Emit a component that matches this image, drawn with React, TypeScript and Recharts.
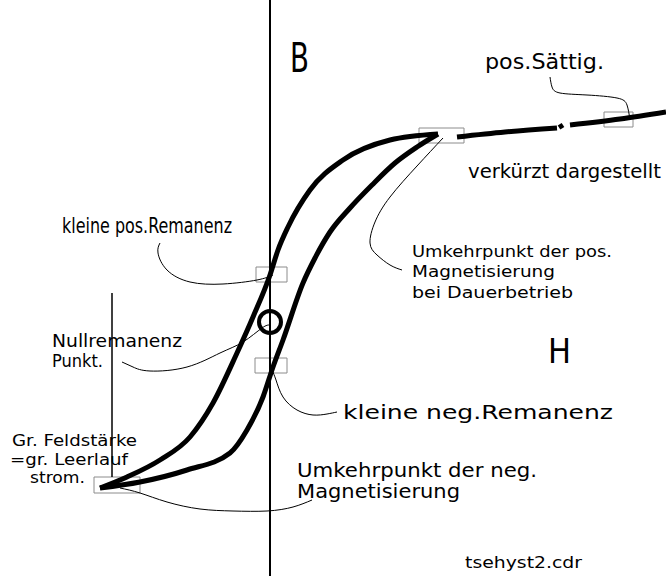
import React from 'react';
import {
    ComposedChart,
    Line,
    XAxis,
    YAxis,
    ReferenceLine,
    ReferenceArea,
    ReferenceDot,
} from 'recharts';

// H (field) on x, B (flux) on y; origin at the "Nullremanenz" point
const upperBranch = [
    { h: -17, b: -16.6 }, { h: -14.3, b: -15.5 }, { h: -11, b: -13.8 }, { h: -8, b: -11.5 },
    { h: -5.7, b: -8.1 }, { h: -3.3, b: -3.1 }, { h: -1.7, b: 0.5 }, { h: 0, b: 4.7 },
    { h: 0.8, b: 7.2 }, { h: 1.8, b: 9.5 }, { h: 4, b: 13.2 }, { h: 7.3, b: 16.2 },
    { h: 12, b: 18.2 }, { h: 16.8, b: 18.8 },
];

const lowerBranch = [
    { h: -17, b: -16.6 }, { h: -13, b: -16 }, { h: -8.3, b: -14.8 }, { h: -4, b: -13.1 },
    { h: -2.3, b: -10.8 }, { h: -0.7, b: -7.5 }, { h: 0.3, b: -4.5 }, { h: 1.3, b: -1.8 },
    { h: 3.3, b: 3.9 }, { h: 4.5, b: 6.4 }, { h: 6, b: 9 }, { h: 8, b: 11.4 },
    { h: 10.2, b: 13.7 }, { h: 12.5, b: 15.9 }, { h: 14.7, b: 17.5 }, { h: 16.8, b: 18.8 },
];

// saturation part, drawn shortened (with breaks)
const satPart1 = [{ h: 18.7, b: 18.5 }, { h: 23.5, b: 19.0 }, { h: 28.7, b: 19.4 }];
const satPart2 = [{ h: 28.9, b: 19.45 }, { h: 29.3, b: 19.7 }];
const satPart3 = [{ h: 30, b: 19.7 }, { h: 35, b: 20.3 }, { h: 39.6, b: 21.0 }];

// thin leader lines from the labels to the marked spots
const leaderSatt = [
    { h: 28, b: 24.5 }, { h: 28.2, b: 23.5 }, { h: 29, b: 22.9 }, { h: 31.7, b: 22.7 },
    { h: 34.7, b: 22.4 }, { h: 35.7, b: 21.7 }, { h: 36, b: 20.2 },
];
const leaderPosTurn = [
    { h: 17.3, b: 18.4 }, { h: 14.7, b: 15.6 }, { h: 12, b: 12.5 }, { h: 10.5, b: 10 },
    { h: 10, b: 7.9 }, { h: 10.7, b: 6.7 }, { h: 12, b: 5.7 }, { h: 13.2, b: 5.2 },
];
const leaderPosRem = [
    { h: -11, b: 7.9 }, { h: -11.2, b: 6.9 }, { h: -10.3, b: 5.2 }, { h: -8, b: 4 },
    { h: -4.7, b: 3.8 }, { h: -1.3, b: 4.2 }, { h: 0.3, b: 4.7 },
];
const leaderNull = [
    { h: -14.8, b: -4.0 }, { h: -13.7, b: -4.5 }, { h: -12, b: -4.9 }, { h: -8.3, b: -4.5 },
    { h: -5, b: -3.1 }, { h: -2.7, b: -2 }, { h: -0.8, b: -0.6 }, { h: 0, b: -0.3 },
];
const leaderNegRem = [
    { h: 0.2, b: -4.8 }, { h: 0.6, b: -5.8 }, { h: 1.3, b: -7.5 }, { h: 2.7, b: -8.8 },
    { h: 4.3, b: -9.3 }, { h: 5.7, b: -9.2 }, { h: 6.7, b: -9.0 },
];
const leaderNegTurn = [
    { h: -15, b: -16.6 }, { h: -13, b: -17.1 }, { h: -10.3, b: -18 }, { h: -7, b: -18.7 },
    { h: -3.7, b: -18.9 }, { h: -0.3, b: -18.9 }, { h: 2.3, b: -18.5 }, { h: 4.2, b: -17.8 },
];

const leaders = [leaderSatt, leaderPosTurn, leaderPosRem, leaderNull, leaderNegRem, leaderNegTurn];

const boxes = [
    { h1: 14.9, h2: 19.4, b1: 17.9, b2: 19.4 },
    { h1: 33.4, h2: 36.3, b1: 19.5, b2: 21.0 },
    { h1: -1.4, h2: 1.7, b1: 4.0, b2: 5.5 },
    { h1: -1.5, h2: 1.7, b1: -5.1, b2: -3.6 },
    { h1: -17.6, h2: -13, b1: -17.1, b2: -15.5 },
];

const nullPoint = { h: 0, b: 0 };

const labels = [
    { text: 'B', h: 2.0, b: 25.0 },
    { text: 'pos.Sättig.', h: 21.5, b: 25.3 },
    { text: 'verkürzt dargestellt', h: 19.8, b: 14.4 },
    { text: 'kleine pos.Remanenz', h: -20.8, b: 8.9 },
    { text: 'Umkehrpunkt der pos.', h: 14.2, b: 6.5 },
    { text: 'Magnetisierung', h: 14.2, b: 4.5 },
    { text: 'bei Dauerbetrieb', h: 14.2, b: 2.4 },
    { text: 'Nullremanenz', h: -21.8, b: -2.5 },
    { text: 'Punkt.', h: -21.8, b: -4.5 },
    { text: 'H', h: 27.8, b: -4.1 },
    { text: 'kleine neg.Remanenz', h: 7.3, b: -9.7 },
    { text: 'Umkehrpunkt der neg.', h: 2.7, b: -15.5 },
    { text: 'Magnetisierung', h: 2.7, b: -17.6 },
    { text: 'Gr. Feldstärke', h: -25.8, b: -12.4 },
    { text: '=gr. Leerlauf', h: -26.0, b: -14.3 },
    { text: 'strom.', h: -24.0, b: -16.1 },
    { text: 'tsehyst2.cdr', h: 19.5, b: -24.6 },
];

// [font size, text width] per label
const labelFont = [
    [40, 19], [22, 119], [20, 193], [21, 170], [16, 200], [16, 143], [16, 161],
    [17, 130], [17, 51], [34, 23], [20, 270], [19, 240], [19, 163],
    [16, 125], [16, 118], [16, 55], [16, 117],
];

const FONT = '"DejaVu Sans", sans-serif';

export default function App() {
    return (
        <div style={{ position: 'absolute', left: 0, top: 0, background: '#fff' }}>
            <ComposedChart width={666} height={576} margin={{ top: 0, right: 0, bottom: 0, left: 0 }}>
                <XAxis type="number" dataKey="h" domain={[-27, 39.6]} allowDataOverflow hide />
                <YAxis type="number" dataKey="b" domain={[-25.4, 32.2]} allowDataOverflow hide />

                <ReferenceLine x={0} stroke="#000" strokeWidth={2} />
                <ReferenceLine
                    segment={[{ x: -15.8, y: 2.9 }, { x: -15.8, y: -15.5 }]}
                    stroke="#000"
                    strokeWidth={1.5}
                />

                {boxes.map((r, i) => (
                    <ReferenceArea
                        key={'box' + i}
                        x1={r.h1}
                        x2={r.h2}
                        y1={r.b1}
                        y2={r.b2}
                        fill="none"
                        fillOpacity={0}
                        stroke="#8c8c8c"
                        strokeWidth={1}
                    />
                ))}

                {leaders.map((d, i) => (
                    <Line
                        key={'lead' + i}
                        data={d}
                        dataKey="b"
                        type="natural"
                        stroke="#000"
                        strokeWidth={1}
                        dot={false}
                        activeDot={false}
                        isAnimationActive={false}
                    />
                ))}

                {[upperBranch, lowerBranch, satPart1, satPart2, satPart3].map((d, i) => (
                    <Line
                        key={'loop' + i}
                        data={d}
                        dataKey="b"
                        type="monotone"
                        stroke="#000"
                        strokeWidth={5}
                        dot={false}
                        activeDot={false}
                        isAnimationActive={false}
                    />
                ))}

                <ReferenceDot
                    x={nullPoint.h}
                    y={nullPoint.b}
                    r={11}
                    fill="none"
                    stroke="#000"
                    strokeWidth={4}
                />

                {labels.map((l, i) => (
                    <ReferenceDot
                        key={'lbl' + i}
                        x={l.h}
                        y={l.b}
                        r={0}
                        shape={(p: any) => (
                            <text
                                x={p.cx}
                                y={p.cy}
                                fontFamily={FONT}
                                fontSize={labelFont[i][0]}
                                textLength={labelFont[i][1]}
                                lengthAdjust="spacingAndGlyphs"
                                fill="#000"
                            >
                                {l.text}
                            </text>
                        )}
                    />
                ))}
            </ComposedChart>
        </div>
    );
}
